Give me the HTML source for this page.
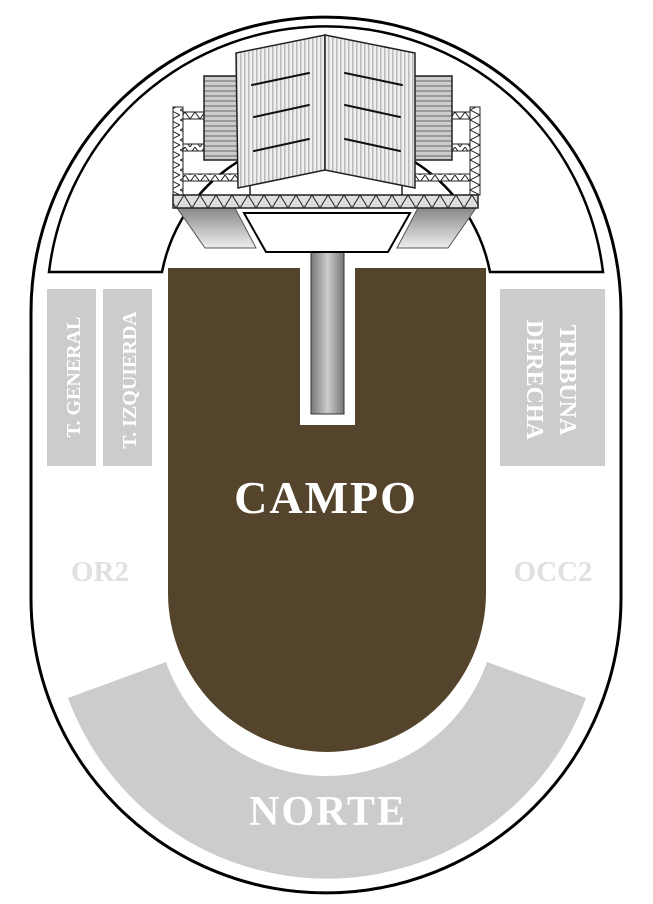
<!DOCTYPE html>
<html><head><meta charset="utf-8"><style>
html,body{margin:0;padding:0;background:#fff;}
svg{display:block;}
text{font-family:"Liberation Serif","DejaVu Serif",serif;font-weight:bold;}
</style></head><body>
<svg width="653" height="904" viewBox="0 0 653 904" xmlns="http://www.w3.org/2000/svg">
<defs>
<pattern id="vs" width="4" height="10" patternUnits="userSpaceOnUse">
<rect width="4" height="10" fill="#eee"/><rect x="0" width="1.5" height="10" fill="#bbb"/>
</pattern>
<pattern id="hs" width="10" height="5" patternUnits="userSpaceOnUse">
<rect width="10" height="5" fill="#ccc"/><rect y="0" width="10" height="2" fill="#999"/>
</pattern>
<pattern id="zz" width="16" height="13" patternUnits="userSpaceOnUse">
<rect width="16" height="13" fill="#ddd"/><path d="M0,13 L8,0 L16,13" fill="none" stroke="#222" stroke-width="1"/>
</pattern>
<pattern id="zz2" width="10" height="7" patternUnits="userSpaceOnUse">
<rect width="10" height="7" fill="#fff"/><path d="M0,7 L5,0 L10,7" fill="none" stroke="#222" stroke-width="1"/>
</pattern>
<pattern id="zz3" width="10" height="10" patternUnits="userSpaceOnUse">
<rect width="10" height="10" fill="#fff"/><path d="M0,0 L10,5 L0,10" fill="none" stroke="#222" stroke-width="1"/>
</pattern>
<linearGradient id="pil" x1="0" x2="1"><stop offset="0" stop-color="#777"/><stop offset="0.5" stop-color="#ccc"/><stop offset="1" stop-color="#777"/></linearGradient>
<linearGradient id="pilv" x1="0" x2="0" y1="0" y2="1"><stop offset="0" stop-color="#888"/><stop offset="1" stop-color="#eee"/></linearGradient>
</defs>
<path d="M31,312 A295,295 0 0 1 621,312 L621,598 A295,295 0 0 1 31,598 Z" fill="#fff" stroke="#000" stroke-width="3"/>
<path d="M49,272 A279,279 0 0 1 603,272 L490,272 A167,167 0 0 0 162,272 Z" fill="#fff" stroke="#000" stroke-width="2.5"/>
<path d="M68,698 A276,276 0 0 0 586,698 L487,662 A170,170 0 0 1 166,662 Z" fill="#cccccc"/>
<path d="M168,268 L486,268 L486,593 A159,159 0 0 1 168,593 Z" fill="#54442c"/>
<rect x="47" y="289" width="49" height="177" fill="#cccccc"/>
<rect x="103" y="289" width="49" height="177" fill="#cccccc"/>
<rect x="500" y="289" width="105" height="177" fill="#cccccc"/>
<text transform="translate(80,377) rotate(-90)" text-anchor="middle" font-size="20" fill="#fff">T. GENERAL</text>
<text transform="translate(136,380) rotate(-90)" text-anchor="middle" font-size="20" fill="#fff">T. IZQUIERDA</text>
<text transform="translate(560,380) rotate(90)" text-anchor="middle" font-size="24" fill="#fff">TRIBUNA</text>
<text transform="translate(527,380) rotate(90)" text-anchor="middle" font-size="24" fill="#fff">DERECHA</text>
<text x="100" y="581" text-anchor="middle" font-size="29" fill="#e0e0e0">OR2</text>
<text x="553" y="581" text-anchor="middle" font-size="29" fill="#e0e0e0">OCC2</text>
<text x="326" y="513" text-anchor="middle" font-size="46" letter-spacing="2" fill="#fff">CAMPO</text>
<text x="328" y="825" text-anchor="middle" font-size="42" letter-spacing="2" fill="#fff">NORTE</text>
<rect x="300" y="250" width="55" height="175" fill="#fff"/>
<rect x="311" y="252" width="33" height="162" fill="url(#pil)" stroke="#333" stroke-width="1"/>
<path d="M177,208 L235,208 L256,248 L205,248 Z" fill="url(#pilv)" stroke="#555" stroke-width="1"/>
<path d="M476,208 L418,208 L397,248 L448,248 Z" fill="url(#pilv)" stroke="#555" stroke-width="1"/>
<path d="M244,213 L410,213 L388,252 L266,252 Z" fill="#fff" stroke="#000" stroke-width="2"/>
<rect x="173" y="107" width="10" height="88" fill="url(#zz3)" stroke="#222" stroke-width="1"/>
<rect x="470" y="107" width="10" height="88" fill="url(#zz3)" stroke="#222" stroke-width="1"/>
<rect x="183" y="112" width="25" height="7" fill="url(#zz2)" stroke="#222" stroke-width="1"/>
<rect x="183" y="144" width="25" height="7" fill="url(#zz2)" stroke="#222" stroke-width="1"/>
<rect x="183" y="174" width="60" height="7" fill="url(#zz2)" stroke="#222" stroke-width="1"/>
<rect x="445" y="112" width="25" height="7" fill="url(#zz2)" stroke="#222" stroke-width="1"/>
<rect x="445" y="144" width="25" height="7" fill="url(#zz2)" stroke="#222" stroke-width="1"/>
<rect x="410" y="174" width="60" height="7" fill="url(#zz2)" stroke="#222" stroke-width="1"/>
<rect x="204" y="76" width="35" height="84" fill="url(#hs)" stroke="#222" stroke-width="1.5"/>
<rect x="414" y="76" width="38" height="84" fill="url(#hs)" stroke="#222" stroke-width="1.5"/>
<line x1="250" y1="185" x2="250" y2="195" stroke="#222" stroke-width="1.5"/>
<line x1="402" y1="185" x2="402" y2="195" stroke="#222" stroke-width="1.5"/>
<path d="M236,53 L325,35 L325,170 L238,188 Z" fill="url(#vs)" stroke="#222" stroke-width="1.5"/>
<path d="M325,35 L415,53 L415,188 L325,170 Z" fill="url(#vs)" stroke="#222" stroke-width="1.5"/>
<g stroke="#111" stroke-width="2" stroke-linecap="round">
<line x1="252" y1="85" x2="309" y2="73"/><line x1="254" y1="117" x2="309" y2="105"/><line x1="254" y1="151" x2="309" y2="139"/>
<line x1="345" y1="73" x2="402" y2="85"/><line x1="345" y1="105" x2="400" y2="117"/><line x1="345" y1="139" x2="400" y2="151"/>
</g>
<rect x="173" y="195" width="305" height="13" fill="url(#zz)" stroke="#222" stroke-width="1.5"/>
</svg>
</body></html>
